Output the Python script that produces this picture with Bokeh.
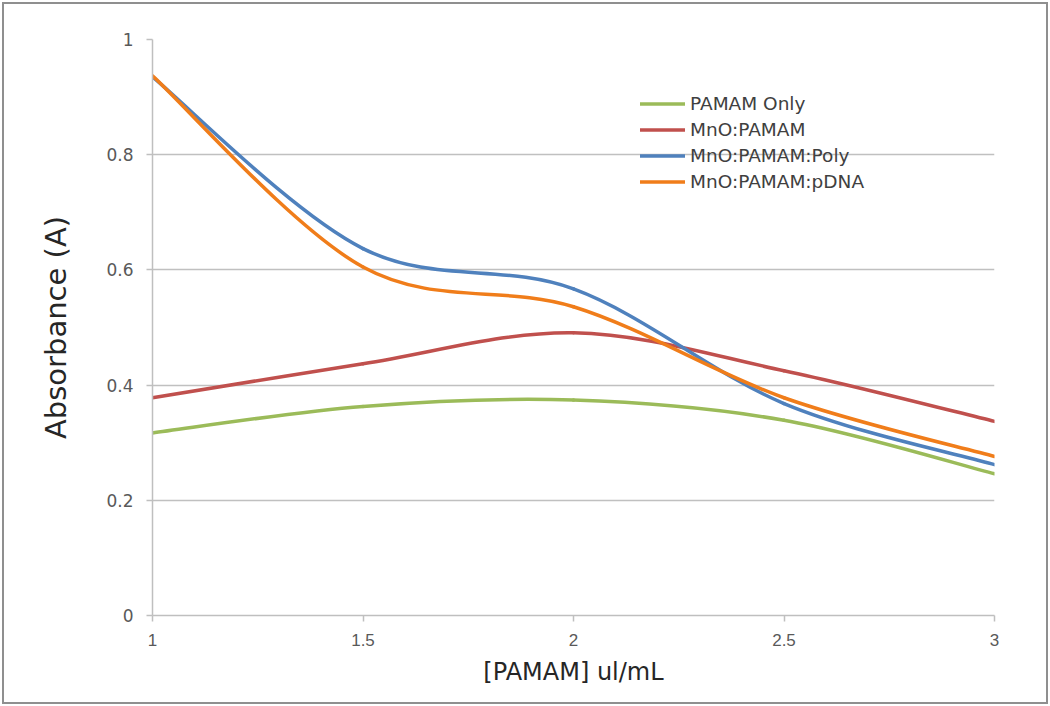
import numpy as np
from bokeh.plotting import figure
from bokeh.models import Legend, LegendItem, FixedTicker, Range1d, CustomJSTickFormatter
from bokeh.embed import file_html
from bokeh.resources import INLINE

# ---- data ----
x_vals = [1.0, 1.5, 2.0, 2.5, 3.0]
pamam_only = [0.317, 0.363, 0.374, 0.339, 0.246]
mno_pamam = [0.378, 0.437, 0.491, 0.425, 0.337]
mno_pamam_poly = [0.935, 0.637, 0.567, 0.368, 0.262]
mno_pamam_pdna = [0.937, 0.605, 0.536, 0.378, 0.276]
series_names = ["PAMAM Only", "MnO:PAMAM", "MnO:PAMAM:Poly", "MnO:PAMAM:pDNA"]
series_colors = ["#9BBB59", "#C0504D", "#4F81BD", "#F07D1A"]
x_ticks = [1, 1.5, 2, 2.5, 3]
y_ticks = [0, 0.2, 0.4, 0.6, 0.8, 1.0]

p = figure(width=1034, height=690, output_backend="svg", toolbar_location=None,
           x_range=Range1d(1, 3), y_range=Range1d(0, 1),
           min_border_left=152, min_border_right=40, min_border_top=39, min_border_bottom=75)
p.outline_line_color = None
p.background_fill_color = "white"
p.border_fill_color = "white"
p.stylesheets = [":host { position: relative; } "
                 ":host::after { content: ''; position: absolute; left: 2px; top: 2px; "
                 "width: 1046px; height: 702px; box-sizing: border-box; "
                 "border: 2px solid #8f8f8f; pointer-events: none; }"]


def smooth_segments(xs, ys):
    # Excel-style smoothed line: cubic bezier per segment
    n = len(xs)
    xs = np.asarray(xs, float)
    ys = np.asarray(ys, float)
    seg = dict(x0=[], y0=[], x1=[], y1=[], cx0=[], cy0=[], cx1=[], cy1=[])
    for i in range(n - 1):
        i0 = max(i - 1, 0)
        i3 = min(i + 2, n - 1)
        seg["x0"].append(xs[i]); seg["y0"].append(ys[i])
        seg["x1"].append(xs[i + 1]); seg["y1"].append(ys[i + 1])
        seg["cx0"].append(xs[i] + (xs[i + 1] - xs[i0]) / 6)
        seg["cy0"].append(ys[i] + (ys[i + 1] - ys[i0]) / 6)
        seg["cx1"].append(xs[i + 1] - (xs[i3] - xs[i]) / 6)
        seg["cy1"].append(ys[i + 1] - (ys[i3] - ys[i]) / 6)
    return seg


items = []
for name, col, ys in zip(series_names, series_colors,
                         [pamam_only, mno_pamam, mno_pamam_poly, mno_pamam_pdna]):
    s = smooth_segments(x_vals, ys)
    r = p.bezier(x0=s["x0"], y0=s["y0"], x1=s["x1"], y1=s["y1"],
                 cx0=s["cx0"], cy0=s["cy0"], cx1=s["cx1"], cy1=s["cy1"],
                 line_color=col, line_width=3.5, line_cap="round")
    items.append(LegendItem(label=name, renderers=[r]))

legend = Legend(items=items, location=(488, 423), padding=0, margin=0,
                glyph_width=45, glyph_height=21, spacing=5, label_standoff=5,
                label_text_font="DejaVu Sans", label_text_font_size="18.5px",
                label_text_color="#404040", border_line_color=None,
                background_fill_alpha=0)
p.add_layout(legend, "center")

# axes
p.xaxis.ticker = FixedTicker(ticks=x_ticks)
p.yaxis.ticker = FixedTicker(ticks=y_ticks)
p.xaxis.formatter = CustomJSTickFormatter(code="return String(tick);")
p.yaxis.formatter = CustomJSTickFormatter(code="return String(Math.round(tick*10)/10);")
for ax in (p.xaxis, p.yaxis):
    ax.axis_line_color = "#BFBFBF"
    ax.axis_line_width = 1.5
    ax.major_tick_line_color = "#BFBFBF"
    ax.major_tick_line_width = 1.5
    ax.major_tick_out = 6
    ax.major_tick_in = 0
    ax.minor_tick_line_color = None
    ax.major_label_text_color = "#595959"
    ax.axis_label_text_font = "DejaVu Sans"
    ax.axis_label_text_font_style = "normal"
    ax.axis_label_text_color = "#262626"
p.xaxis.major_label_text_font = "Liberation Sans"
p.xaxis.major_label_text_font_size = "17px"
p.yaxis.major_label_text_font = "DejaVu Sans"
p.yaxis.major_label_text_font_size = "17px"
p.xaxis.major_label_standoff = 12
p.yaxis.major_label_standoff = 13
p.xaxis.axis_label = "[PAMAM] ul/mL"
p.yaxis.axis_label = "Absorbance (A)"
p.xaxis.axis_label_text_font_size = "24px"
p.yaxis.axis_label_text_font_size = "29px"
p.xaxis.axis_label_standoff = 9
p.yaxis.axis_label_standoff = 30

p.xgrid.grid_line_color = None
p.ygrid.grid_line_color = "#C0C0C0"
p.ygrid.grid_line_width = 1.5

open("out.html", "w").write(file_html(p, INLINE))
